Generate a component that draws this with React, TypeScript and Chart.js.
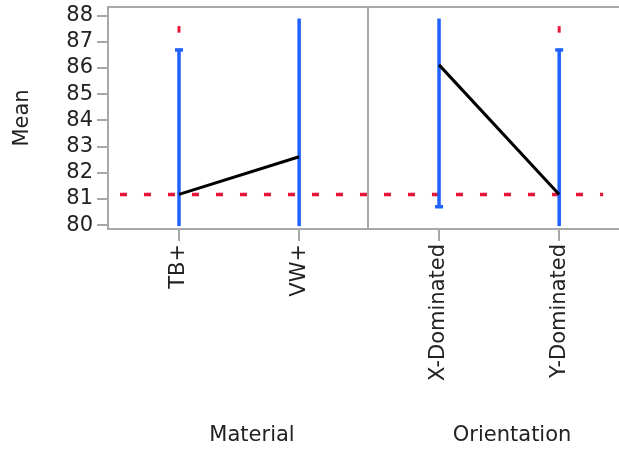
import React, { useEffect, useRef } from 'react';
import { Chart, registerables } from 'chart.js';

Chart.register(...registerables);

// ---- data ----
const categories = ['TB+', 'VW+', 'X-Dominated', 'Y-Dominated'];
const categoryPanel = [0, 0, 1, 1];
const factors = ['Material', 'Orientation'];
const means = [81.17, 82.61, 86.12, 81.17];
const lowerBars = [79.96, 79.96, 80.7, 79.96];
const upperBars = [86.69, 87.89, 87.89, 86.69];
const lowerCap = [false, false, true, false];
const upperCap = [true, false, false, true];
const markLow = [87.35, null, null, 87.35];
const markHigh = [87.6, null, null, 87.6];
const overallMean = 81.17;
const yTicks = [80, 81, 82, 83, 84, 85, 86, 87, 88];
const yMin = 79.85;
const yMax = 88.33;

// ---- layout (panel units) ----
const catInset = [0.273, 0.735];
const xMax = 1.965;
const refStart = 0.046;
const refEnd = 1.904;

const catX = categories.map((_, i) => categoryPanel[i] + catInset[i % 2]);

const FONT = "'DejaVu Sans', sans-serif";
const BLUE = '#1f62ff';
const RED = '#e8173a';
const GRAY = '#a8a8a8';

export default function App() {
  const ref = useRef<HTMLCanvasElement>(null);

  useEffect(() => {
    if (!ref.current) return;
    const datasets: any[] = [];

    categories.forEach((c, i) => {
      datasets.push({
        label: 'bar ' + c,
        data: [
          { x: catX[i], y: lowerBars[i] },
          { x: catX[i], y: upperBars[i] },
        ],
        borderColor: BLUE,
        backgroundColor: BLUE,
        borderWidth: 3.5,
        pointStyle: 'line',
        pointRadius: [lowerCap[i] ? 4 : 0, upperCap[i] ? 4 : 0],
        pointBorderWidth: 3.5,
        pointBorderColor: BLUE,
        order: 3,
      });
      if (markLow[i] != null) {
        datasets.push({
          label: 'mark ' + c,
          data: [
            { x: catX[i], y: markLow[i] },
            { x: catX[i], y: markHigh[i] },
          ],
          borderColor: RED,
          borderWidth: 3,
          pointRadius: 0,
          order: 3,
        });
      }
    });

    datasets.push({
      label: 'overall',
      data: [
        { x: refStart, y: overallMean },
        { x: refEnd, y: overallMean },
      ],
      borderColor: RED,
      borderWidth: 3.5,
      borderDash: [7, 17],
      pointRadius: 0,
      order: 4,
    });

    factors.forEach((f, p) => {
      const pts = categories
        .map((_, i) => i)
        .filter((i) => categoryPanel[i] === p)
        .map((i) => ({ x: catX[i], y: means[i] }));
      datasets.push({
        label: f,
        data: pts,
        borderColor: '#000',
        borderWidth: 3,
        pointRadius: 0,
        order: 1,
      });
    });

    const framePlugin = {
      id: 'frame',
      beforeDatasetsDraw(chart: any) {
        const { ctx, chartArea, scales } = chart;
        ctx.save();
        ctx.strokeStyle = GRAY;
        ctx.lineWidth = 2;
        ctx.beginPath();
        ctx.moveTo(chartArea.left, chartArea.top);
        ctx.lineTo(chartArea.right, chartArea.top);
        for (let p = 1; p < factors.length; p++) {
          const xp = Math.round(scales.x.getPixelForValue(p));
          ctx.moveTo(xp, chartArea.top);
          ctx.lineTo(xp, chartArea.bottom);
        }
        ctx.stroke();
        ctx.restore();
      },
      afterDraw(chart: any) {
        const { ctx, chartArea, scales } = chart;
        ctx.save();
        ctx.fillStyle = '#222';
        ctx.font = `21px ${FONT}`;
        ctx.textAlign = 'center';
        ctx.textBaseline = 'middle';
        factors.forEach((f, p) => {
          const cx = (scales.x.getPixelForValue(p) + scales.x.getPixelForValue(p + 1)) / 2 + 14;
          ctx.fillText(f, cx, 436);
        });
        ctx.translate(23, (chartArea.top + chartArea.bottom) / 2);
        ctx.rotate(-Math.PI / 2);
        ctx.fillText('Mean', 0, 0);
        ctx.restore();
      },
    };

    const chart = new Chart(ref.current, {
      type: 'line',
      data: { datasets },
      plugins: [framePlugin],
      options: {
        animation: false,
        responsive: false,
        layout: { autoPadding: false, padding: { top: 7, left: 0, right: 0, bottom: 0 } },
        plugins: { legend: { display: false }, tooltip: { enabled: false } },
        scales: {
          x: {
            type: 'linear',
            min: 0,
            max: xMax,
            afterBuildTicks(scale: any) {
              scale.ticks = catX.map((v) => ({ value: v }));
            },
            afterFit(scale: any) {
              scale.height = 228;
              scale.paddingLeft = 0;
              scale.paddingRight = 0;
            },
            ticks: {
              autoSkip: false,
              minRotation: 90,
              maxRotation: 90,
              padding: 3,
              color: '#222',
              font: { family: FONT, size: 21 },
              callback: (_v: any, i: number) => categories[i],
            },
            grid: { drawOnChartArea: false, tickLength: 12, color: GRAY, lineWidth: 2 },
            border: { color: GRAY, width: 2 },
          },
          y: {
            type: 'linear',
            min: yMin,
            max: yMax,
            afterBuildTicks(scale: any) {
              scale.ticks = yTicks.map((v) => ({ value: v }));
            },
            afterFit(scale: any) {
              scale.width = 108;
              scale.paddingTop = 0;
              scale.paddingBottom = 0;
            },
            ticks: {
              autoSkip: false,
              padding: 4,
              color: '#222',
              font: { family: FONT, size: 21 },
              callback: (v: any) => String(v),
            },
            grid: { drawOnChartArea: false, tickLength: 11, color: GRAY, lineWidth: 2 },
            border: { color: GRAY, width: 2 },
          },
        },
      },
    });
    return () => chart.destroy();
  }, []);

  return (
    <div style={{ position: 'fixed', left: 0, top: 0, width: 619, height: 457, background: '#fff', overflow: 'hidden' }}>
      <canvas ref={ref} width={619} height={457} />
    </div>
  );
}
